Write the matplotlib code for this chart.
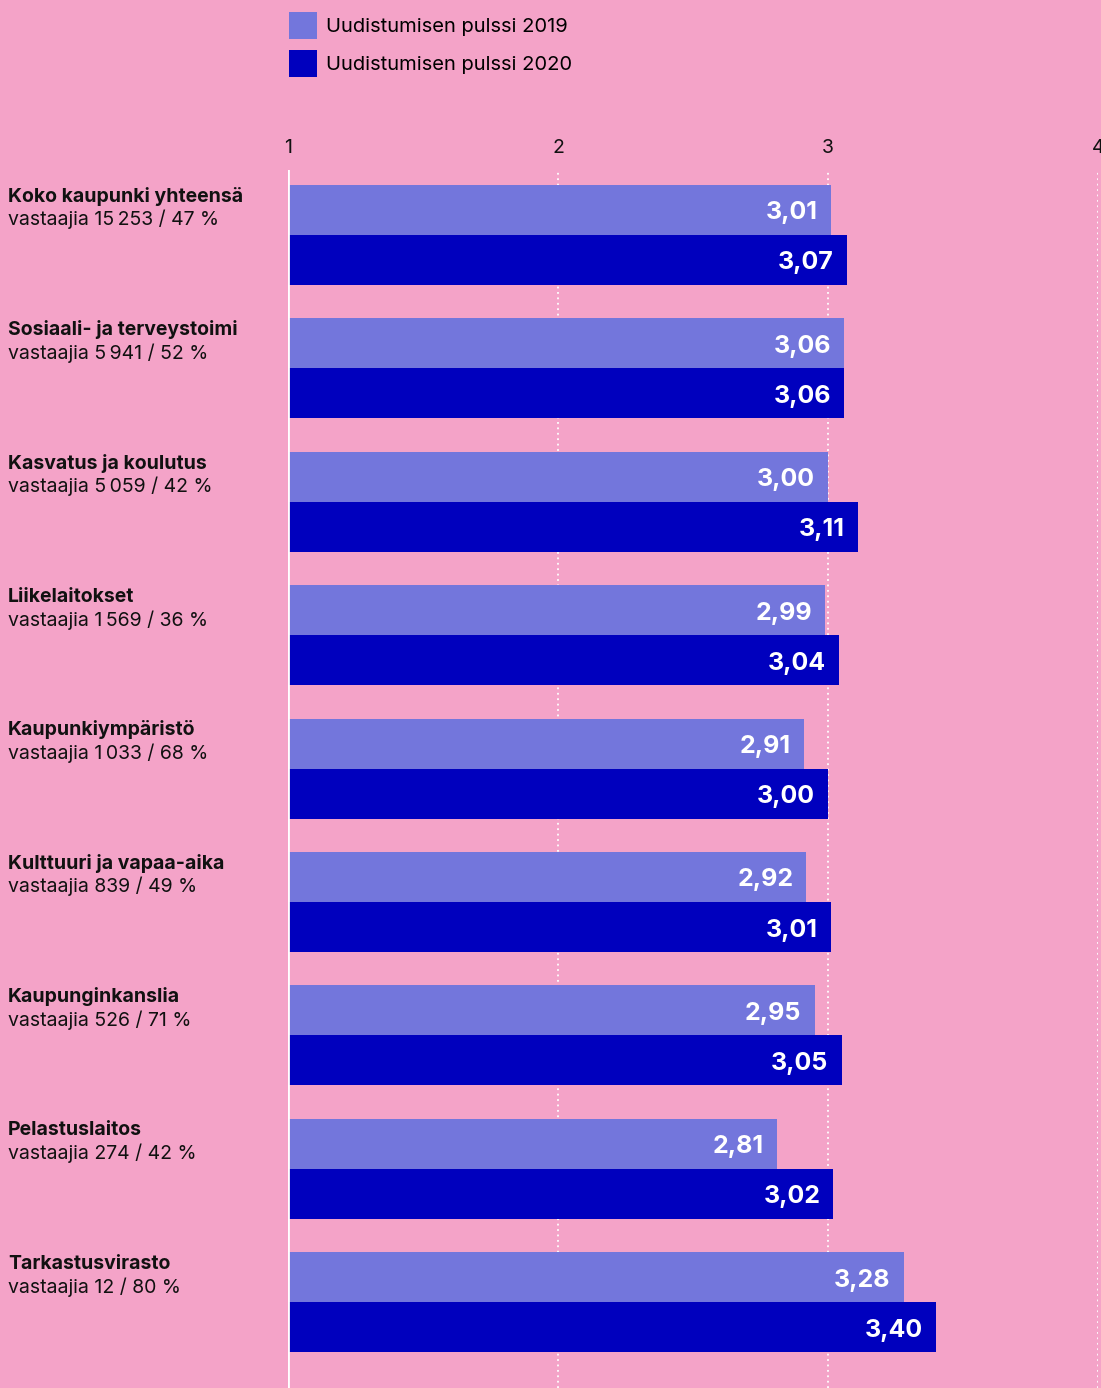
import matplotlib
matplotlib.use('Agg')
import numpy as np
import matplotlib.pyplot as plt
from matplotlib.patches import Patch
from matplotlib.transforms import blended_transform_factory

plt.rcParams['font.family'] = ['Inter', 'DejaVu Sans']

# data
categories = ['Koko kaupunki yhteensä', 'Sosiaali- ja terveystoimi', 'Kasvatus ja koulutus',
              'Liikelaitokset', 'Kaupunkiympäristö', 'Kulttuuri ja vapaa-aika',
              'Kaupunginkanslia', 'Pelastuslaitos', 'Tarkastusvirasto']
respondents = ['vastaajia 15\u2009253 / 47 %', 'vastaajia 5\u2009941 / 52 %', 'vastaajia 5\u2009059 / 42 %',
               'vastaajia 1\u2009569 / 36 %', 'vastaajia 1\u2009033 / 68 %', 'vastaajia 839 / 49 %',
               'vastaajia 526 / 71 %', 'vastaajia 274 / 42 %', 'vastaajia 12 / 80 %']
pulse_2019 = [3.01, 3.06, 3.00, 2.99, 2.91, 2.92, 2.95, 2.81, 3.28]
pulse_2020 = [3.07, 3.06, 3.11, 3.04, 3.00, 3.01, 3.05, 3.02, 3.40]
series_names = ['Uudistumisen pulssi 2019', 'Uudistumisen pulssi 2020']
xticks = [1, 2, 3, 4]

bg = '#F4A3C8'
c19 = '#7376DC'
c20 = '#0000BE'

W, H = 1101, 1388
fig = plt.figure(figsize=(W / 100, H / 100), dpi=100, facecolor=bg)
ax = fig.add_axes([288 / W, 0, 810 / W, (H - 170) / H])
ax.set_facecolor(bg)

y = np.arange(len(categories))
h = 0.375
b1 = ax.barh(y - h / 2, np.array(pulse_2019) - 1, height=h, left=1, color=c19, zorder=3)
b2 = ax.barh(y + h / 2, np.array(pulse_2020) - 1, height=h, left=1, color=c20, zorder=3)

ax.set_xlim(1, 4)
ax.set_ylim(8.643, -0.487)

# value labels inside bar ends
for bars, vals in ((b1, pulse_2019), (b2, pulse_2020)):
    for r, v in zip(bars, vals):
        ax.annotate(f'{v:.2f}'.replace('.', ','), (v, r.get_y() + r.get_height() / 2),
                    xytext=(-13, -3), textcoords='offset pixels', ha='right', va='center',
                    color='white', fontsize=18, fontweight='bold', zorder=4)

# grid
for xv in xticks[1:]:
    ax.axvline(xv, color='white', lw=1.3, ls=(0, (1, 2)), zorder=1)
ax.axvline(1, color='white', lw=2, zorder=5)

ax.xaxis.tick_top()
ax.set_xticks(xticks)
ax.set_xticklabels([str(t) for t in xticks], fontsize=14, color='#111111')
ax.tick_params(axis='x', length=0, pad=9.5)
ax.set_yticks([])
for s in ax.spines.values():
    s.set_visible(False)

# category labels
tr = blended_transform_factory(fig.transFigure, ax.transData)
for i, (c, r) in enumerate(zip(categories, respondents)):
    ax.text(8 / W, i - 0.29, c, transform=tr, fontsize=14, fontweight='bold',
            color='#111111', va='center', ha='left')
    ax.text(8 / W, i - 0.115, r, transform=tr, fontsize=14, color='#111111',
            va='center', ha='left')

handles = [Patch(facecolor=c19), Patch(facecolor=c20)]
fig.legend(handles, series_names, loc='upper left', bbox_to_anchor=(289 / W, 1 - 12 / H),
           frameon=False, fontsize=14.5, handlelength=1.39, handleheight=1.69,
           handletextpad=0.45, labelspacing=0.55, borderpad=0, borderaxespad=0)

fig.savefig('out.png', dpi=100, facecolor=bg)
